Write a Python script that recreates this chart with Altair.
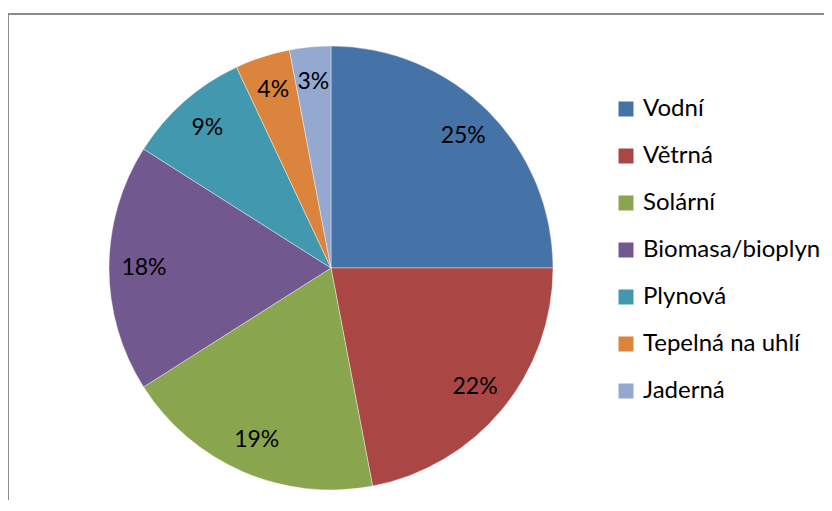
import altair as alt
import pandas as pd

categories = ["Vodní", "Větrná", "Solární", "Biomasa/bioplyn", "Plynová", "Tepelná na uhlí", "Jaderná"]
values = [25, 22, 19, 18, 9, 4, 3]
labels = ["25%", "22%", "19%", "18%", "9%", "4%", "3%"]
colors = ["#4572A7", "#AA4643", "#89A54E", "#71588F", "#4198AF", "#DB843D", "#93A9CF"]

df = pd.DataFrame({"kat": categories, "hodnota": values, "popisek": labels,
                   "poradi": list(range(len(categories)))})

FONT = "Lato"
W, H = 816, 487
CX, CY, R = 323, 255, 222

base = alt.Chart(df).encode(
    theta=alt.Theta("hodnota:Q", stack=True),
    order=alt.Order("poradi:Q"),
)

arcs = base.mark_arc(outerRadius=R, stroke="white", strokeWidth=0.4).encode(
    x=alt.value(CX), y=alt.value(CY),
    color=alt.Color("kat:N", sort=categories,
                    scale=alt.Scale(domain=categories, range=colors),
                    legend=alt.Legend(title=None, orient="none", legendX=606, legendY=84,
                                      symbolType="square", symbolSize=225,
                                      symbolStrokeWidth=0, labelFontSize=24,
                                      labelFont=FONT, labelColor="black",
                                      rowPadding=23, labelOffset=5,
                                      labelLimit=300)),
)

texts = base.mark_text(radius=187, fontSize=23, font=FONT, color="black").encode(
    x=alt.value(CX), y=alt.value(CY),
    text="popisek:N",
)

left = alt.Chart(df).mark_rule(color="#8c8c8c", strokeWidth=2).encode(
    x=alt.value(0), y=alt.value(0), y2=alt.value(H))
top = alt.Chart(df).mark_rule(color="#8c8c8c", strokeWidth=2).encode(
    x=alt.value(0), x2=alt.value(W), y=alt.value(1))

chart = alt.layer(arcs, texts, left, top).properties(
    width=W, height=H,
    padding={"left": 0, "top": 5, "right": 0, "bottom": 0},
    autosize=alt.AutoSizeParams(type="none"),
).configure(background="white").configure_view(stroke=None)

chart.save("out.html", embed_options={"renderer": "svg", "actions": False})
